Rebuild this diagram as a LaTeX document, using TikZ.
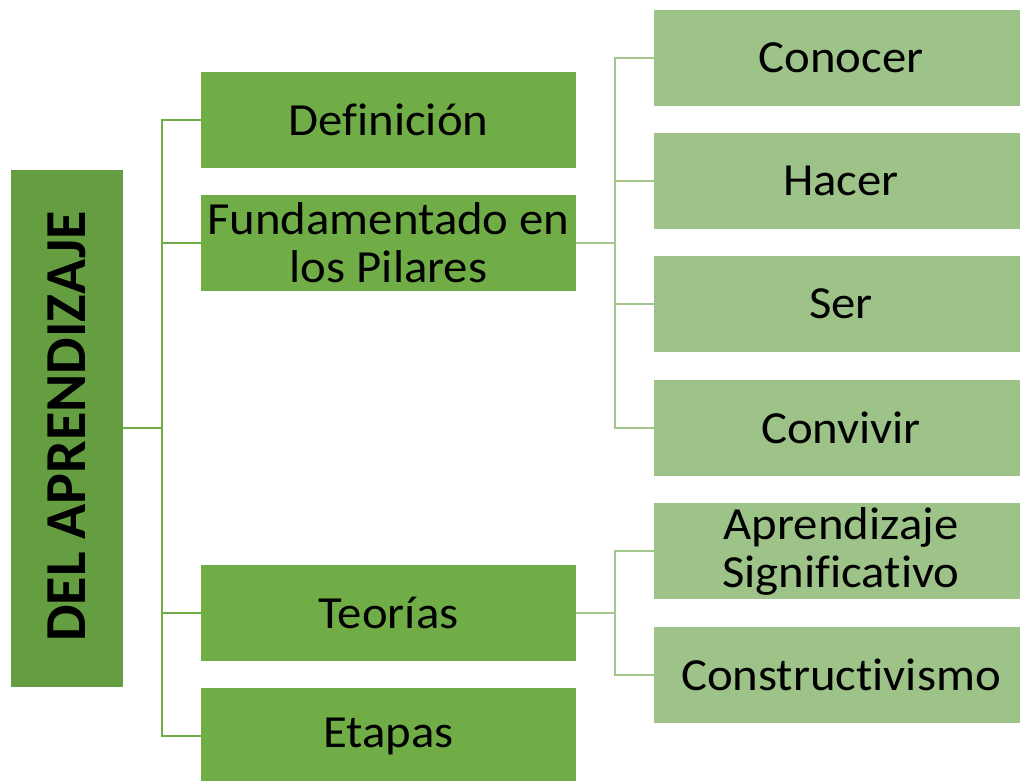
\documentclass[tikz,border=0pt]{standalone}
\usepackage{fontspec}
\setmainfont{Carlito}[Ligatures=NoCommon]
\newfontfamily\widefont{Carlito}[FakeStretch=1.06,Ligatures=NoCommon]
\newcommand{\sh}{\hspace*{8pt}}
\definecolor{rootc}{HTML}{659E40}
\definecolor{lonec}{HTML}{70AD47}
\definecolor{ltwoc}{HTML}{9DC388}
\definecolor{linetwo}{HTML}{A3C78D}
\begin{document}
\begin{tikzpicture}[x=1pt,y=-1pt,
  boxone/.style={fill=lonec,draw=none,minimum width=375pt,minimum height=96pt,inner sep=0pt,align=center,font=\widefont\fontsize{46}{48}\selectfont,text=black},
  boxtwo/.style={fill=ltwoc,draw=none,minimum width=366pt,minimum height=96pt,inner sep=0pt,align=center,font=\widefont\fontsize{46}{48}\selectfont,text=black},
  conone/.style={draw=lonec,line width=2pt},
  contwo/.style={draw=linetwo,line width=2pt}]
\useasboundingbox (0,0) rectangle (1021,780);
\clip (0,0) rectangle (1021,780);
% root
\node[fill=rootc,minimum width=112pt,minimum height=517pt,inner sep=0pt] (root) at (67,428.5) {};
\node[rotate=90,font=\fontsize{58}{60}\selectfont\bfseries,text=black] (roottext) at (67,426.5) {DEL APRENDIZAJE};
% level 1
\node[boxone] (def) at (388.5,120) {Definición};
\node[boxone] (fund) at (388.5,243) {Fundamentado en\\los Pilares};
\node[boxone] (teo) at (388.5,613) {Teorías};
\node[boxone] (eta) at (388.5,736) {Etapas};
% level 2
\node[boxtwo] (con) at (837,58) {\sh Conocer};
\node[boxtwo] (hac) at (837,181) {\sh Hacer};
\node[boxtwo] (ser) at (837,304) {\sh Ser};
\node[boxtwo] (conv) at (837,428) {\sh Convivir};
\node[boxtwo] (apr) at (837,551) {\sh Aprendizaje\\\sh Significativo};
\node[boxtwo] (cons) at (837,675) {\sh Constructivismo};
% connectors level 1
\coordinate (j1) at (162,428);
\draw[conone] (root.east |- j1) -- (j1);
\draw[conone] (j1) |- (def.west);
\draw[conone] (j1) |- (fund.west);
\draw[conone] (j1) |- (teo.west);
\draw[conone] (j1) |- (eta.west);
% connectors level 2
\coordinate (j2) at (615,243);
\draw[contwo] (fund.east) -- (j2);
\draw[contwo] (j2) |- (con.west);
\draw[contwo] (j2) |- (hac.west);
\draw[contwo] (j2) |- (ser.west);
\draw[contwo] (j2) |- (conv.west);
\coordinate (j3) at (615,613);
\draw[contwo] (teo.east) -- (j3);
\draw[contwo] (j3) |- (apr.west);
\draw[contwo] (j3) |- (cons.west);
\end{tikzpicture}
\end{document}
